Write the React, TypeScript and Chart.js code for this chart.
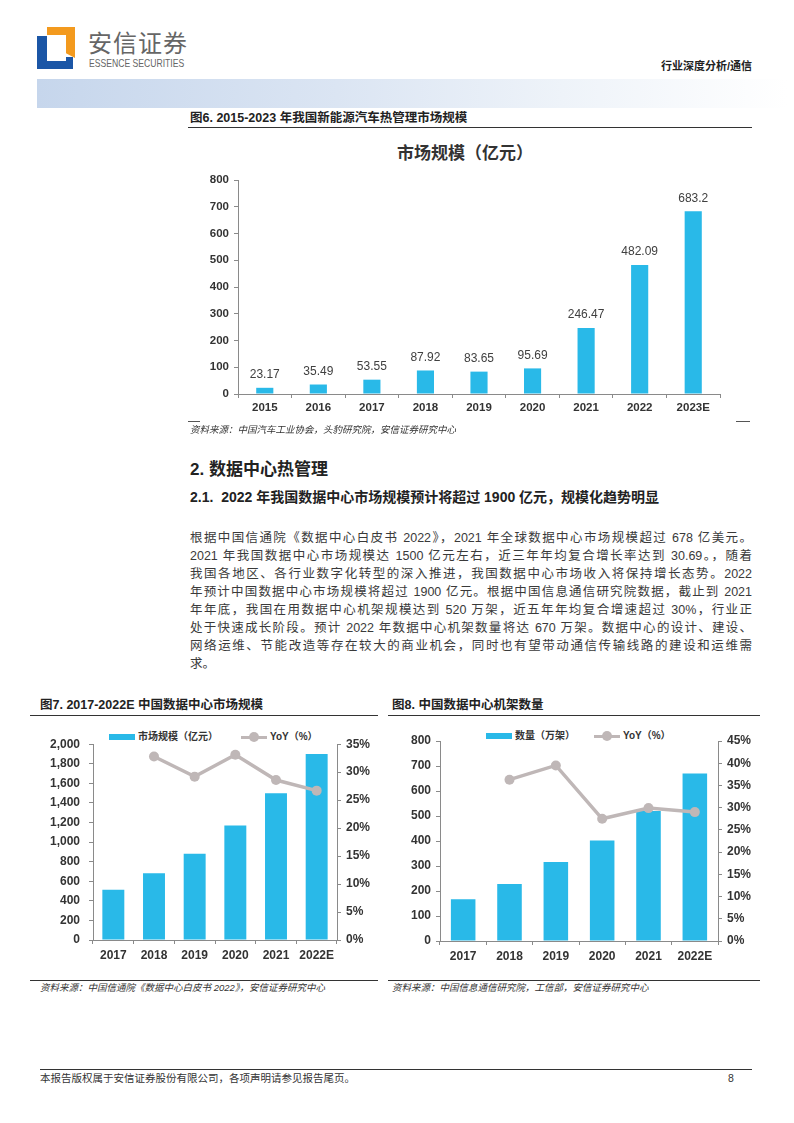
import React, { useEffect, useRef } from 'react';
import { Chart, registerables } from 'chart.js';

Chart.register(...registerables);

// ---------- data ----------
const nevYears = ['2015', '2016', '2017', '2018', '2019', '2020', '2021', '2022', '2023E'];
const nevMarket = [23.17, 35.49, 53.55, 87.92, 83.65, 95.69, 246.47, 482.09, 683.2];
const nevMarketLabels = ['23.17', '35.49', '53.55', '87.92', '83.65', '95.69', '246.47', '482.09', '683.2'];

const dcYears = ['2017', '2018', '2019', '2020', '2021', '2022E'];
const dcMarket = [513, 681, 880, 1170, 1500, 1900];
const dcMarketYoY = [null, 32.8, 29.2, 33.1, 28.6, 26.7];

const rackYears = ['2017', '2018', '2019', '2020', '2021', '2022E'];
const rackCount = [167, 228, 316, 402, 520, 670];
const rackYoY = [null, 36.3, 39.5, 27.5, 29.9, 29.0];

// ---------- styles ----------
const BLUE = '#29b9e8';
const GREY = '#bfb7b7';
const AXIS = '#8a8a8a';
const LATIN = '"Liberation Sans", Arial, sans-serif';
const CJK = '"Liberation Sans", "Noto Sans CJK SC", sans-serif';
const TICK_FONT: any = { family: LATIN, size: 11.5, weight: 'bold' };
const TICK_FONT_L: any = { family: LATIN, size: 12, weight: 'bold' };

function yAxis(position: string, width: number, max: number, step: number, fmt: (v: number) => string, pad = 5, font: any = TICK_FONT) {
  return {
    position,
    min: 0,
    max,
    afterFit: (s: any) => { s.width = width; },
    ticks: { stepSize: step, color: '#333', font, padding: pad, callback: (v: any) => fmt(Number(v)) },
    grid: { drawOnChartArea: false, tickLength: 4, color: AXIS },
    border: { color: AXIS },
  };
}

function xAxis(height: number, pad = 2, font: any = TICK_FONT) {
  return {
    type: 'category',
    offset: true,
    afterFit: (s: any) => { s.height = height; },
    grid: { offset: true, drawOnChartArea: false, tickLength: 4, color: AXIS },
    border: { color: AXIS },
    ticks: { color: '#333', font, padding: pad, maxRotation: 0, autoSkip: false },
  };
}

const valueLabelPlugin = {
  id: 'valueLabels',
  afterDatasetsDraw(chart: any) {
    const ctx = chart.ctx;
    const meta = chart.getDatasetMeta(0);
    ctx.save();
    ctx.font = `12px ${LATIN}`;
    ctx.fillStyle = '#404040';
    ctx.textAlign = 'center';
    ctx.textBaseline = 'bottom';
    meta.data.forEach((bar: any, i: number) => {
      ctx.fillText(nevMarketLabels[i], bar.x, bar.y - 7);
    });
    ctx.restore();
  },
};

function makeNevChart(): any {
  return {
    type: 'bar',
    data: {
      labels: nevYears,
      datasets: [{ data: nevMarket, backgroundColor: BLUE, categoryPercentage: 1, barPercentage: 0.32 }],
    },
    options: {
      animation: false,
      responsive: false,
      devicePixelRatio: 1,
      layout: { padding: { top: 15, right: 28, left: 0, bottom: 0 } },
      plugins: { legend: { display: false }, tooltip: { enabled: false } },
      scales: {
        x: xAxis(28, 3),
        y: yAxis('left', 50, 800, 100, (v) => String(v), 5),
      },
    },
    plugins: [valueLabelPlugin],
  };
}

function makeComboChart(labels: string[], bars: number[], yoy: (number | null)[], leftW: number, rightW: number,
  leftMax: number, leftStep: number, rightMax: number, xH: number, barPct: number, leftFmt: (v: number) => string, leftPad: number): any {
  return {
    data: {
      labels,
      datasets: [
        {
          type: 'line', data: yoy, yAxisID: 'y1', order: 0,
          borderColor: GREY, backgroundColor: GREY, borderWidth: 3.5,
          pointRadius: 5, pointBackgroundColor: GREY, pointBorderWidth: 0, spanGaps: false,
        },
        {
          type: 'bar', data: bars, yAxisID: 'y', order: 1,
          backgroundColor: BLUE, categoryPercentage: 1, barPercentage: barPct,
        },
      ],
    },
    options: {
      animation: false,
      responsive: false,
      devicePixelRatio: 1,
      layout: { padding: { top: 13, right: 0, left: 0, bottom: 0 } },
      plugins: { legend: { display: false }, tooltip: { enabled: false } },
      scales: {
        x: xAxis(xH, 4, TICK_FONT_L),
        y: yAxis('left', leftW, leftMax, leftStep, leftFmt, leftPad, TICK_FONT_L),
        y1: yAxis('right', rightW, rightMax, 5, (v) => `${v}%`, 5, TICK_FONT_L),
      },
    },
  };
}

function ChartBox({ left, top, width, height, make }: { left: number; top: number; width: number; height: number; make: () => any }) {
  const ref = useRef<HTMLCanvasElement | null>(null);
  useEffect(() => {
    const chart = new Chart(ref.current as HTMLCanvasElement, make());
    return () => chart.destroy();
  }, []);
  return (
    <div style={{ position: 'absolute', left, top, width, height }}>
      <canvas ref={ref} width={width} height={height} style={{ width, height, display: 'block' }} />
    </div>
  );
}

const abs = (left: number, top: number, extra: any = {}): any => ({ position: 'absolute', left, top, ...extra });

function Legend({ y, barText, barX, lineX, lineText }: any) {
  return (
    <>
      <div style={abs(barX, y - 3, { width: 26, height: 6, background: BLUE })} />
      <div style={abs(barX + 29, y - 8, { fontFamily: CJK, fontWeight: 700, fontSize: 10, lineHeight: '16px', color: '#333', whiteSpace: 'nowrap' })}>{barText}</div>
      <div style={abs(lineX, y - 1.5, { width: 26, height: 3, background: GREY })} />
      <div style={abs(lineX + 8, y - 5, { width: 10, height: 10, borderRadius: 5, background: GREY })} />
      <div style={abs(lineX + 29, y - 8, { fontFamily: CJK, fontWeight: 700, fontSize: 10, lineHeight: '16px', color: '#333', whiteSpace: 'nowrap' })}>{lineText}</div>
    </>
  );
}

const paragraph = [
  '根据中国信通院《数据中心白皮书 2022》，2021 年全球数据中心市场规模超过 678 亿美元。',
  '2021 年我国数据中心市场规模达 1500 亿元左右，近三年年均复合增长率达到 30.69。，随着',
  '我国各地区、各行业数字化转型的深入推进，我国数据中心市场收入将保持增长态势。2022',
  '年预计中国数据中心市场规模将超过 1900 亿元。根据中国信息通信研究院数据，截止到 2021',
  '年年底，我国在用数据中心机架规模达到 520 万架，近五年年均复合增速超过 30%，行业正',
  '处于快速成长阶段。预计 2022 年数据中心机架数量将达 670 万架。数据中心的设计、建设、',
  '网络运维、节能改造等存在较大的商业机会，同时也有望带动通信传输线路的建设和运维需',
  '求。',
];
const paraTops = [538, 556, 574, 592, 610, 628, 646, 664];

export default function App() {
  const figTitle: any = { fontFamily: CJK, fontWeight: 700, fontSize: 12.5, color: '#222', whiteSpace: 'nowrap', lineHeight: '16px' };
  const source: any = { fontFamily: CJK, fontStyle: 'italic', fontSize: 9.5, color: '#333', whiteSpace: 'nowrap', lineHeight: '14px' };
  return (
    <div style={{ position: 'absolute', left: 0, top: 0, width: 794, height: 1123, background: '#fff', overflow: 'hidden' }}>
      {/* header logo */}
      <div style={abs(47, 27, { width: 28, height: 8, background: '#f39a1e' })} />
      <div style={abs(66, 27, { width: 9, height: 31, background: '#f39a1e', clipPath: 'polygon(0 0,100% 0,100% 100%,0 85%)' })} />
      <div style={abs(37, 36, { width: 10, height: 33, background: '#1b56a6' })} />
      <div style={abs(37, 61, { width: 36, height: 8, background: '#1b56a6' })} />
      <div style={abs(66, 57, { width: 7, height: 12, background: '#1b56a6' })} />
      <div style={abs(88, 28, { fontFamily: '"Noto Sans CJK SC", sans-serif', fontSize: 24, lineHeight: '28px', color: '#666', letterSpacing: 1, whiteSpace: 'nowrap' })}>安信证券</div>
      <div style={abs(89, 57, { fontFamily: LATIN, fontSize: 10.5, lineHeight: '12px', color: '#666', whiteSpace: 'nowrap', transform: 'scaleX(0.82)', transformOrigin: 'left' })}>ESSENCE SECURITIES</div>
      <div style={abs(640, 59, { fontFamily: CJK, fontWeight: 700, fontSize: 11, lineHeight: '14px', color: '#222', whiteSpace: 'nowrap', width: 112, textAlign: 'right' })}>行业深度分析/通信</div>
      <div style={abs(37, 79, { width: 750, height: 29, background: 'linear-gradient(to right, #c6d6ec 0%, #dbe5f3 40%, #eef3f9 70%, #ffffff 100%)' })} />

      {/* figure 6 */}
      <div style={abs(190, 110, figTitle)}>图6. 2015-2023 年我国新能源汽车热管理市场规模</div>
      <div style={abs(188, 127, { width: 564, height: 1, background: '#333' })} />
      <div style={abs(388, 141, { width: 154, textAlign: 'center', fontFamily: '"Noto Sans CJK SC", sans-serif', fontWeight: 700, fontSize: 17, lineHeight: '22px', color: '#333', whiteSpace: 'nowrap' })}>市场规模（亿元）</div>
      <ChartBox left={188} top={165} width={560} height={257} make={makeNevChart} />
      <div style={abs(188, 421, { width: 12, height: 1, background: '#555' })} />
      <div style={abs(736, 421, { width: 14, height: 1, background: '#555' })} />
      <div style={abs(190, 423, source)}>资料来源：中国汽车工业协会，头豹研究院，安信证券研究中心</div>

      {/* section text */}
      <div style={abs(190, 459, { fontFamily: CJK, fontWeight: 700, fontSize: 17, lineHeight: '22px', color: '#222', whiteSpace: 'nowrap' })}>2. 数据中心热管理</div>
      <div style={abs(190, 488, { fontFamily: CJK, fontWeight: 700, fontSize: 14, lineHeight: '18px', color: '#222', whiteSpace: 'nowrap' })}>2.1.&nbsp; 2022 年我国数据中心市场规模预计将超过 1900 亿元，规模化趋势明显</div>
      {paragraph.map((t, i) => (
        <div key={i} style={abs(190, paraTops[i] - 9, {
          width: 562, fontFamily: CJK, fontWeight: 400, fontSize: 12.5, lineHeight: '18px', color: '#3a3a3a',
          textAlign: 'justify', textAlignLast: i < paragraph.length - 1 ? 'justify' : 'left',
        })}>{t}</div>
      ))}

      {/* figure 7 */}
      <div style={abs(40, 697, figTitle)}>图7. 2017-2022E 中国数据中心市场规模</div>
      <div style={abs(30, 715, { width: 348, height: 1, background: '#333' })} />
      <Legend y={737} barX={109} lineX={241} barText="市场规模（亿元）" lineText="YoY（%）" />
      <ChartBox left={30} top={728} width={350} height={247}
        make={() => makeComboChart(dcYears, dcMarket, dcMarketYoY, 63, 43, 2000, 200, 35, 35, 0.54, (v) => v.toLocaleString('en-US'), 9)} />
      <div style={abs(30, 980, { width: 348, height: 1, background: '#333' })} />
      <div style={abs(40, 981, source)}>资料来源：中国信通院《数据中心白皮书 2022》，安信证券研究中心</div>

      {/* figure 8 */}
      <div style={abs(392, 697, figTitle)}>图8. 中国数据中心机架数量</div>
      <div style={abs(388, 715, { width: 372, height: 1, background: '#333' })} />
      <Legend y={736} barX={486} lineX={594} barText="数量（万架）" lineText="YoY（%）" />
      <ChartBox left={385} top={728} width={380} height={247}
        make={() => makeComboChart(rackYears, rackCount, rackYoY, 55, 47, 800, 100, 45, 34, 0.53, (v) => String(v), 5)} />
      <div style={abs(388, 980, { width: 372, height: 1, background: '#333' })} />
      <div style={abs(392, 981, source)}>资料来源：中国信息通信研究院，工信部，安信证券研究中心</div>

      {/* footer */}
      <div style={abs(40, 1069, { width: 712, height: 1, background: '#333' })} />
      <div style={abs(40, 1071, { fontFamily: CJK, fontSize: 10.5, lineHeight: '14px', color: '#333', whiteSpace: 'nowrap' })}>本报告版权属于安信证券股份有限公司，各项声明请参见报告尾页。</div>
      <div style={abs(728, 1071, { fontFamily: LATIN, fontSize: 10.5, lineHeight: '14px', color: '#333' })}>8</div>
    </div>
  );
}
